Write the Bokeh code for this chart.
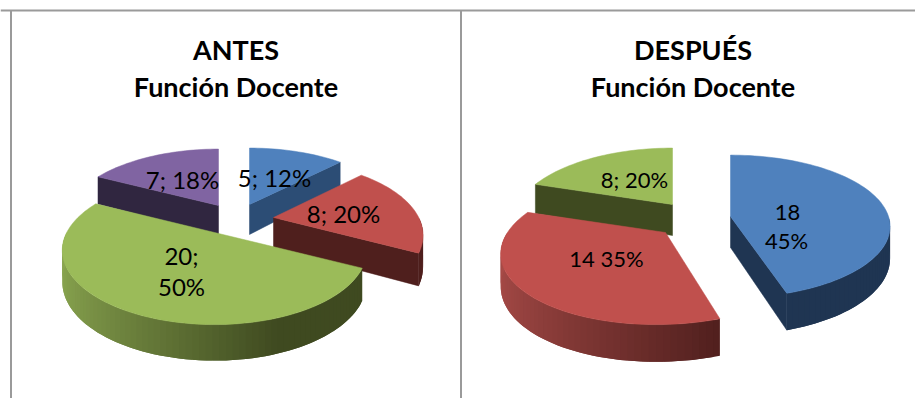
import math
from bokeh.plotting import figure
from bokeh.models import Range1d
from bokeh.core.properties import value
from bokeh.embed import file_html
from bokeh.resources import INLINE

# Teaching-function survey: counts per category, before and after
antes_values = [5, 8, 20, 7]
despues_values = [18, 14, 8]
antes_labels = [["5; 12%"], ["8; 20%"], ["20;", "50%"], ["7; 18%"]]
despues_labels = [["18", "45%"], ["14 35%"], ["8; 20%"]]
antes_title = ["ANTES", "Función Docente"]
despues_title = ["DESPUÉS", "Función Docente"]

# Office palette: top face, rim shaded light end, rim dark end, radial walls
TOP = ["#4f81bd", "#c0504d", "#9bbb59", "#8064a2"]
LIGHT = ["#4a74a8", "#a84b48", "#8aa650", "#6d5690"]
DARK = ["#1f3552", "#4f1f1d", "#3f4a20", "#302640"]
WALL_ANTES = ["#2c4d75", "#4f1f1d", "#3f4a20", "#302640"]
WALL_DESPUES = ["#1f3552", "#4f1f1d", "#3f4a20"]

W, H = 915, 398
p = figure(width=W, height=H, output_backend="svg", toolbar_location=None,
           x_range=Range1d(0, W), y_range=Range1d(H, 0),
           min_border=0, outline_line_color=None, background_fill_color="white")
p.axis.visible = False
p.grid.visible = False
FONT = value("Lato")


def mix(a, b, t):
    ca = [int(a[i:i + 2], 16) for i in (1, 3, 5)]
    cb = [int(b[i:i + 2], 16) for i in (1, 3, 5)]
    return "#%02x%02x%02x" % tuple(round(x + (y - x) * t) for x, y in zip(ca, cb))


def draw_pie(values, walls, shift, widen, skew, persp, cx, cy, rx, ry, depth):
    """Tilted pie with perspective; slices run clockwise from twelve o'clock."""
    total = sum(values)
    slices, start = [], 0.0
    for i, val in enumerate(values):
        end = start + 360.0 * val / total
        slices.append((i, start, end))
        start = end

    def uv(deg):
        r = math.radians(deg)
        return math.sin(r), -math.cos(r)

    def steps(a, b, n=2.0):
        count = max(1, int(math.ceil((b - a) / n)))
        return [a + (b - a) * k / count for k in range(count + 1)]

    slices.sort(key=lambda s: uv((s[1] + s[2]) / 2)[1])
    for i, a, b in slices:
        ax, ay = cx + shift[i][0], cy + shift[i][1]

        def project(deg, drop=False):
            u, v = uv(deg)
            f = 1 / (1 - persp[i] * v)
            y = ay + ry * v * f
            if drop:
                y += depth * (1 + 0.2 * v)
            return ax + rx * widen[i] * u * f + skew[i] * (f - 1), y

        # radial walls that face the viewer
        for edge, visible in ((b, math.sin(math.radians(b)) > 1e-6),
                              (a, -math.sin(math.radians(a)) > 1e-6)):
            if visible:
                x1, y1 = project(edge)
                x2, y2 = project(edge, True)
                p.patch([ax, x1, x2, ax], [ay, y1, y2, ay + depth],
                        fill_color=walls[i], line_color=walls[i], line_width=0.5)
        # outer rim, front half only; each band runs under the next to hide seams
        fa = max(a, 90.0)
        fb = min(b, 270.0)
        if fb > fa:
            angs = steps(fa, fb)
            for s, e in zip(angs[:-1], angs[1:]):
                e2 = min(e + 2.0, fb)
                xa, ya = project(s)
                xm, ym = project(e)
                xb, yb = project(e2)
                xc, yc = project(e2, True)
                xn, yn = project(e, True)
                xd, yd = project(s, True)
                t = min(1.0, max(0.0, (uv((s + e) / 2)[0] + 1) / 1.33))
                c = mix(LIGHT[i], DARK[i], t)
                p.patch([xa, xm, xb, xc, xn, xd], [ya, ym, yb, yc, yn, yd],
                        fill_color=c, line_color=None)
        # top face
        pts = [project(d) for d in steps(a, b)]
        p.patch([ax] + [q[0] for q in pts], [ay] + [q[1] for q in pts],
                fill_color=TOP[i], line_color=TOP[i], line_width=0.5)


draw_pie(antes_values, WALL_ANTES,
         [(17, -14), (41, -1), (-18, 14), (-14, -13)],
         [1.0, 0.968, 0.985, 1.0], [0, 0, 0, 0], [0.24, 0.24, 0.24, 0.24],
         232, 218, 150, 70, 30)
draw_pie(despues_values, WALL_DESPUES,
         [(35, -2), (-30, 14), (-23, -14)],
         [1.0, 1.0, 0.98], [0, -30, 0], [0.14, 0.24, 0.24],
         695, 218, 158, 70, 31)

# table rules around the two panels
for xs, ys in (([0, W], [10, 10]), ([10.5, 10.5], [10, H]), ([460.5, 460.5], [10, H])):
    p.line(xs, ys, line_color="#9a9a9a", line_width=2)

# panel headings
for title, tx in ((antes_title, 235.5), (despues_title, 692.5)):
    for line, ty in zip(title, (49, 86)):
        p.text([tx], [ty], text=[line], text_font=FONT, text_font_style="bold",
               text_font_size="27px", text_color="black",
               text_align="center", text_baseline="middle")


def put_labels(labels, spots, size):
    for lines, spot in zip(labels, spots):
        for line, (lx, ly) in zip(lines, spot):
            p.text([lx], [ly], text=[line], text_font=FONT, text_font_size=size,
                   text_color="black", text_align="center", text_baseline="middle")


put_labels(antes_labels,
           [[(274, 177)], [(343, 213)], [(181, 255), (181, 286)], [(182, 179)]], "24px")
put_labels(despues_labels,
           [[(787, 212), (786, 240)], [(606, 258)], [(634, 179)]], "22px")

open("out.html", "w").write(file_html(p, INLINE))
